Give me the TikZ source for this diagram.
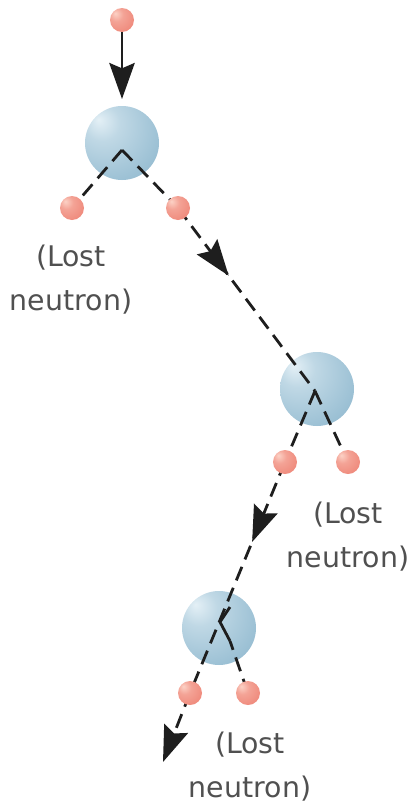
\documentclass[tikz,border=0pt]{standalone}
\usepackage{fontspec}
\setmainfont{DejaVu Sans}
\usetikzlibrary{arrows.meta,decorations.markings,calc}
\definecolor{nuc}{RGB}{155,192,212}
\definecolor{nuclight}{RGB}{228,240,246}
\definecolor{nucdark}{RGB}{112,155,182}
\definecolor{neu}{RGB}{238,132,118}
\definecolor{neulight}{RGB}{252,210,198}
\definecolor{neudark}{RGB}{220,102,90}
\definecolor{ink}{RGB}{30,30,30}
\definecolor{txt}{RGB}{80,80,80}
\pgfdeclareradialshading{nucshade}{\pgfpoint{-16bp}{16bp}}{color(0bp)=(nuclight); color(12bp)=(nuclight!50!nuc); color(35bp)=(nuc); color(62bp)=(nucdark); color(75bp)=(nucdark)}
\pgfdeclareradialshading{neushade}{\pgfpoint{-14bp}{14bp}}{color(0bp)=(neulight); color(14bp)=(neulight!40!neu); color(40bp)=(neu); color(64bp)=(neudark); color(75bp)=(neudark)}
\pgfdeclarelayer{back}
\pgfdeclarelayer{mid}
\pgfsetlayers{back,mid,main}
\begin{document}
\begin{tikzpicture}[x=0.75pt,y=-0.75pt,
  nucleus/.style={circle, minimum size=55.5pt, inner sep=0pt, shading=nucshade},
  neutron/.style={circle, minimum size=18pt, inner sep=0pt, shading=neushade},
  mytrack/.style={draw, color=ink, line width=2.1pt},
  dtrack/.style={mytrack, dash pattern=on 11pt off 6pt},
  arrowend/.style={-{Stealth[length=27pt,width=19pt,inset=4pt]}},
  midarrow/.style={postaction={decorate}, decoration={markings, mark=at position #1 with {\arrow{Stealth[length=27pt,width=19pt,inset=4pt]}}}},
  lostlabel/.style={text=txt, font=\fontsize{21.3pt}{33pt}\selectfont, inner sep=0pt, anchor=base}]
\useasboundingbox (0,0) rectangle (416,807);
% nuclei
\begin{pgfonlayer}{back}
\node[nucleus] (N1) at (122,143) {};
\node[nucleus] (N2) at (317,389) {};
\node[nucleus] (N3) at (219,628) {};
\end{pgfonlayer}
% neutrons
\node[neutron] (n0)  at (122,20) {};
\node[neutron] (n1a) at (72,208) {};
\node[neutron] (n1b) at (178,208) {};
\node[neutron] (n2a) at (285,462) {};
\node[neutron] (n2b) at (348,462) {};
\node[neutron] (n3a) at (190,693) {};
\node[neutron] (n3b) at (248,693) {};
% helper points
\coordinate (t1) at (122,99);
\coordinate (a1) at (122,150);
\coordinate (a2) at (315,391);
\coordinate (s3) at (230,607);
\coordinate (a3) at (220,622);
\coordinate (c3) at (230,641);
\coordinate (e4) at (163,762);
% tracks
\begin{pgfonlayer}{mid}
\draw[mytrack, arrowend] (n0) -- (t1);
\draw[dtrack] (a1) -- (n1a.center);
\draw[dtrack] (a1) -- (n1b.center);
\draw[dtrack, midarrow=0.37] (n1b.center) -- (a2);
\draw[dtrack] (a2) -- (n2a.center);
\draw[dtrack] (a2) -- (n2b.center);
\draw[dtrack, midarrow=0.346] (n2a.center) -- (n3a.center);
\draw[mytrack, line join=miter] (s3) -- (a3) -- (c3);
\draw[dtrack, dash phase=4pt] (c3) -- (n3b.center);
\draw[dtrack, arrowend] (n3a.center) -- (e4);
\end{pgfonlayer}
% labels
\node[lostlabel] (L1) at (71,266) {\begin{tabular}[t]{@{}c@{}}(Lost\\neutron)\end{tabular}};
\node[lostlabel] (L2) at (348,523) {\begin{tabular}[t]{@{}c@{}}(Lost\\neutron)\end{tabular}};
\node[lostlabel] (L3) at (250,753) {\begin{tabular}[t]{@{}c@{}}(Lost\\neutron)\end{tabular}};
\end{tikzpicture}
\end{document}
